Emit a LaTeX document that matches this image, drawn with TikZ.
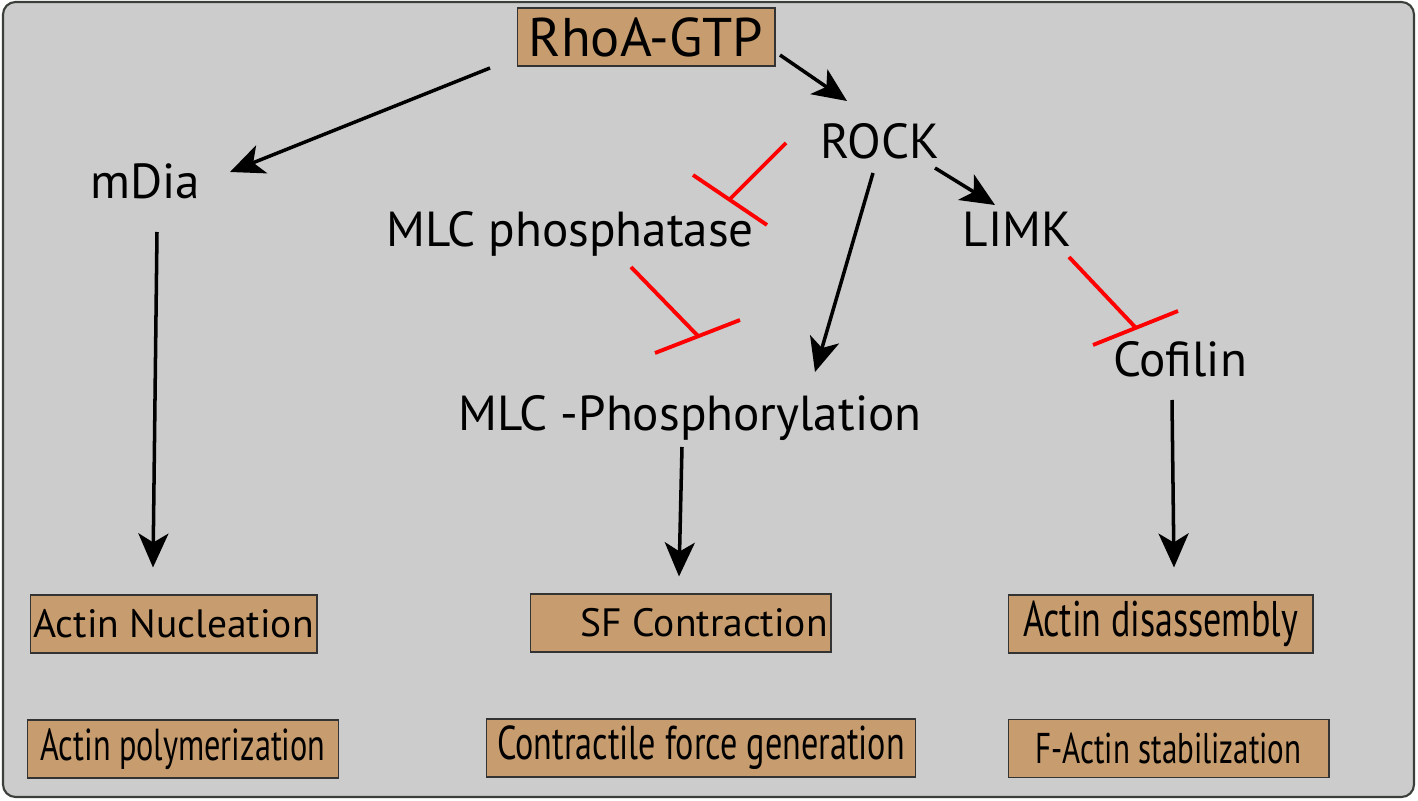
\documentclass[tikz,border=0pt]{standalone}
\usepackage{fontspec}
\setmainfont{PT Sans}
\newfontfamily\condfont[FakeStretch=0.72]{PT Sans}
\usetikzlibrary{arrows.meta}
\definecolor{panelgray}{RGB}{204,204,204}
\definecolor{paneledge}{RGB}{58,63,58}
\definecolor{tan}{RGB}{199,156,110}

\begin{document}
\begin{tikzpicture}[x=0.02cm, y=-0.02cm]

% Define styles
\tikzstyle{box} = [rectangle, draw=black!80, line width=0.6pt, fill=tan, inner sep=0pt, minimum height=1.16cm, font=\fontsize{22.5}{26}\selectfont]
\tikzstyle{label} = [inner sep=0pt, anchor=base, font=\fontsize{28}{32}\selectfont]
\tikzstyle{act} = [line width=2pt, -{Stealth[length=0.68cm, width=0.6cm, inset=0.18cm]}]
\tikzstyle{inhib} = [red, line width=2.2pt]

% Panel
\useasboundingbox (0,0) rectangle (1418,801);
\draw [fill=panelgray, draw=paneledge, line width=1.2pt, rounded corners=0.25cm] (3,2) rectangle (1414,797);

% Upstream
\node [box, minimum width=5.16cm, font=\fontsize{31}{34}\selectfont] (rhoa) at (646,37) {RhoA-GTP};
\node [label] (rock) at (880,158) {ROCK};
\node [label] (mdia) at (145,198) {mDia};
\node [label] (mlcp) at (570,246) {MLC phosphatase};
\node [label] (limk) at (1017,246) {LIMK};
\node [label] (cofilin) at (1180,376) {Cofilin};
\node [label] (mlcphos) at (690,430) {MLC -Phosphorylation};

% Outcomes
\node [box, minimum width=5.74cm] (nuc) at (173.5,624) {Actin Nucleation};
\node [box, minimum width=6.24cm, font=\condfont\fontsize{25.5}{28}\selectfont] (poly) at (183,749) {Actin polymerization};
\node [box, minimum width=6.02cm] (sfc) at (680.5,623) {\hspace{1.2em}SF Contraction};
\node [box, minimum width=8.6cm, font=\condfont\fontsize{27}{30}\selectfont] (force) at (701,748) {Contractile force generation};
\node [box, minimum width=6.1cm, font=\condfont\fontsize{28.5}{31}\selectfont] (disas) at (1160.5,624) {Actin disassembly};
\node [box, minimum width=6.42cm, font=\condfont\fontsize{24.5}{27}\selectfont] (stab) at (1168.5,748.5) {F-Actin stabilization};

% Activation
\draw [act] ([shift={(-156,31)}]rhoa.center) -- ([shift={(85,-26)}]mdia.base);
\draw [act] ([shift={(134,18)}]rhoa.center) -- ([shift={(-33,-57)}]rock.base);
\draw [act] ([shift={(55,10)}]rock.base) -- ([shift={(-22,-41)}]limk.base);
\draw [act] ([shift={(-7,15)}]rock.base) -- ([shift={(125,-58)}]mlcphos.base);
\draw [act] ([shift={(12,34)}]mdia.base) -- ([shift={(-20.5,-27)}]nuc.north);
\draw [act] ([shift={(-8,17)}]mlcphos.base) -- ([shift={(-1.5,-17)}]sfc.north);
\draw [act] ([shift={(-8,24)}]cofilin.base) -- ([shift={(13.5,-27)}]disas.north);

% Inhibition
\coordinate (blockmlcp) at ([shift={(160,-47)}]mlcp.base);
\coordinate (blockphos) at ([shift={(8,-94)}]mlcphos.base);
\coordinate (blockcof) at ([shift={(-44,-48)}]cofilin.base);
\draw [inhib] ([shift={(-94,-15)}]rock.base) -- (blockmlcp);
\draw [inhib] ([shift={(-37,-24)}]blockmlcp) -- ([shift={(37,26)}]blockmlcp);
\draw [inhib] ([shift={(61,21)}]mlcp.base) -- (blockphos);
\draw [inhib] ([shift={(-43,17)}]blockphos) -- ([shift={(42,-16)}]blockphos);
\draw [inhib] ([shift={(52,11)}]limk.base) -- (blockcof);
\draw [inhib] ([shift={(-43,17)}]blockcof) -- ([shift={(42,-17)}]blockcof);

\end{tikzpicture}
\end{document}
